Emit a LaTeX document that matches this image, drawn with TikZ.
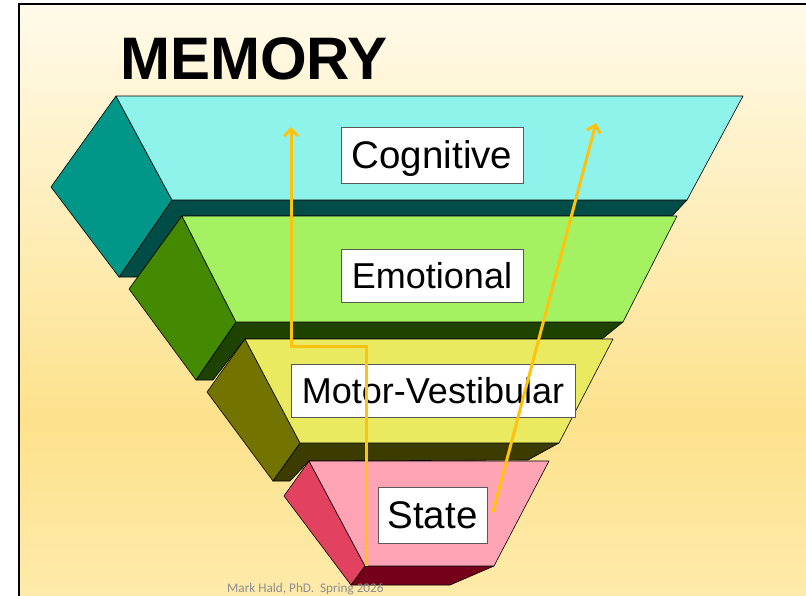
\documentclass[tikz,border=0pt]{standalone}
\usepackage{fontspec}
\setmainfont{Liberation Sans}
\newfontfamily\footfont{Carlito}
\usetikzlibrary{arrows.meta}
\definecolor{bgtop}{HTML}{FFFAEA}
\definecolor{bgmid}{HTML}{FDE28C}
\definecolor{bgbot}{HTML}{FEEAAA}
\definecolor{cyanF}{HTML}{8DF3EB}
\definecolor{cyanS}{HTML}{009688}
\definecolor{cyanD}{HTML}{004D47}
\definecolor{greenF}{HTML}{A4F162}
\definecolor{greenS}{HTML}{438A00}
\definecolor{greenD}{HTML}{1E4300}
\definecolor{yelF}{HTML}{E9EA5F}
\definecolor{yelS}{HTML}{737400}
\definecolor{yelD}{HTML}{3C3B00}
\definecolor{pinkF}{HTML}{FFA4B4}
\definecolor{pinkS}{HTML}{E2425F}
\definecolor{pinkD}{HTML}{760019}
\definecolor{arrowc}{HTML}{FFC20E}
\definecolor{footc}{HTML}{8E8E8E}
\tikzset{
  slab/.style={draw=black, line width=0.6pt, line join=round},
  lab/.style={draw=black!65, fill=white, line width=0.8pt, inner sep=0pt,
    font=\fontsize{36}{40}\selectfont, text height=26pt, text depth=0pt},
  labbig/.style={lab, font=\fontsize{38.5}{42}\selectfont, text height=27.5pt},
  arr/.style={draw=arrowc, line width=3pt, line join=miter,
    -{Straight Barb[length=7pt, width=14pt]}}
}
\begin{document}
\begin{tikzpicture}[x=1pt,y=-1pt]
\useasboundingbox (0,0) rectangle (806,595);
\fill[white] (0,0) rectangle (806,595);
\shade[top color=bgtop,bottom color=bgmid] (19,4) rectangle (806,420);
\shade[top color=bgmid,bottom color=bgbot] (19,419.5) rectangle (806,595);
\draw[line width=2pt] (19,596) -- (19,4) -- (807,4);

\node[anchor=base west, inner sep=0pt, font=\bfseries\fontsize{60}{70}\selectfont] (title) at (120,79) {MEMORY};

% Cognitive layer
\fill[cyanD, slab] (119,277) -- (172,200) -- (687,200) -- (672,216) -- (182,216) -- (138,277) -- cycle;
\fill[cyanS, slab] (116,96) -- (51,187) -- (119,277) -- (172,200) -- cycle;
\fill[cyanF, slab] (116,96) -- (743,96) -- (687,200) -- (172,200) -- cycle;
% Emotional layer
\fill[greenD, slab] (196,380) -- (236,322) -- (623,322) -- (602,339) -- (245,339) -- (213,380) -- cycle;
\fill[greenS, slab] (182,216) -- (129,289) -- (196,380) -- (236,322) -- cycle;
\fill[greenF, slab] (182,216) -- (677,216) -- (623,322) -- (236,322) -- cycle;
% Motor-Vestibular layer
\fill[yelD, slab] (273,481) -- (300,443) -- (559,443) -- (528,460) -- (309,461) -- (290,481) -- cycle;
\fill[yelS, slab] (245,339) -- (207,392) -- (273,481) -- (300,443) -- cycle;
\fill[yelF, slab] (245,339) -- (613,339) -- (559,443) -- (300,443) -- cycle;
% State layer
\fill[pinkD, slab] (351,585) -- (365,566) -- (494,566) -- (450,585) -- cycle;
\fill[pinkS, slab] (309,461) -- (284,496) -- (351,585) -- (365,566) -- cycle;
\fill[pinkF, slab] (309,461) -- (549,461) -- (494,566) -- (365,566) -- cycle;

% labels
\node[labbig, minimum width=182pt, minimum height=56pt] (cog) at (432,155) {Cognitive};
\node[lab, minimum width=182pt, minimum height=53pt] (emo) at (432,275.5) {Emotional};
\node[lab, minimum width=284pt, minimum height=53pt] (mot) at (433,390.5) {Motor-Vestibular};
\node[labbig, minimum width=109pt, minimum height=56pt] (sta) at (432.5,515) {State};

% arrows
\coordinate (a1s) at (366,566);
\coordinate (a1b) at (366,346);
\coordinate (a1e) at (291,127);
\coordinate (a2s) at (493,512);
\coordinate (a2e) at (596,123);
\draw[arr] (a1s) -- (a1b) -| (a1e);
\draw[arr] (a2s) -- (a2e);

\node[anchor=base west, inner sep=0pt, text=footc, font=\footfont\fontsize{13.2}{15}\selectfont] (foot) at (227,592) {Mark Hald, PhD.\ \ Spring 2026};
\end{tikzpicture}
\end{document}
